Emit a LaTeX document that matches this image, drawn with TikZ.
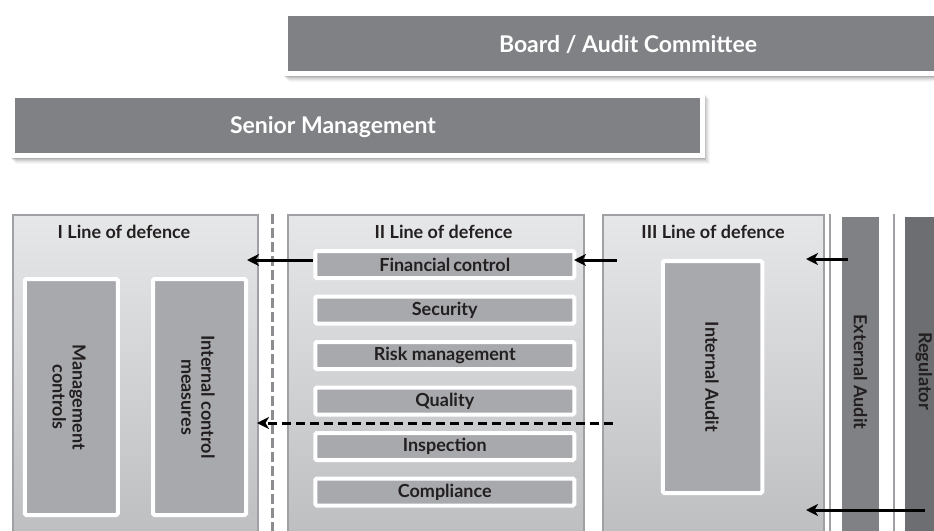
\documentclass[tikz,border=0pt]{standalone}
\usepackage{fontspec}
\setmainfont{Lato}
\usetikzlibrary{arrows.meta,calc}
\definecolor{boxgray}{HTML}{808185}
\definecolor{innergray}{HTML}{A7A9AC}
\definecolor{panelborder}{HTML}{A0A1A4}
\definecolor{regdark}{HTML}{6D6E71}
\definecolor{txt}{HTML}{231F20}
\definecolor{dashgray}{HTML}{8C8D90}
\definecolor{panelTop}{HTML}{E6E7E8}
\definecolor{panelBot}{HTML}{BBBCBE}
\begin{document}
\begin{tikzpicture}[x=1pt,y=-1pt,
  topbox/.style={fill=boxgray, draw=white, line width=4.5pt, inner sep=0pt},
  toptext/.style={text=white, font=\fontsize{23}{26}\selectfont\bfseries, inner sep=0pt},
  lbl/.style={text=txt, font=\fontsize{18}{20}\selectfont\bfseries, inner sep=0pt},
  panel/.style={draw=panelborder, line width=2pt, top color=panelTop, bottom color=panelBot, inner sep=0pt, anchor=north west},
  title/.style={lbl},
  vlbl/.style={lbl, rotate=-90, align=center},
  innerbox/.style={fill=innergray, draw=white, line width=4pt, rounded corners=1.5pt, inner sep=0pt, text=txt, font=\fontsize{18}{20}\selectfont\bfseries, align=center},
  rowbox/.style={innerbox, minimum width=259pt, minimum height=27pt},
  bar/.style={inner sep=0pt, anchor=north west},
  sepline/.style={draw=panelborder, line width=2.5pt},
  arr/.style={draw=black, line width=3pt, -{Stealth[length=12pt,width=12pt,inset=3.5pt]}},
  darr/.style={arr, dash pattern=on 9pt off 5pt}
]
\useasboundingbox (0,0) rectangle (934,530);
\clip (0,0) rectangle (934,530);

% shadows of top boxes
\foreach \o/\op in {1/0.10,2/0.08,3/0.06,4/0.05,5/0.04,6/0.03}{
  \fill[black,opacity=\op] (283+\o,12+\o) rectangle (970,76+\o);
  \fill[black,opacity=\op] (10+\o,93+\o) rectangle (704+\o,158+\o);
}

% top boxes
\node[topbox, minimum width=683pt, minimum height=59.5pt] (board) at (627,43.75) {};
\node[toptext] (boardtxt) at (628,45) {Board / Audit Committee};
\node[topbox, minimum width=689.5pt, minimum height=59.5pt] (senior) at (357.5,125.5) {};
\node[toptext] (seniortxt) at (333,127) {Senior Management};

% panels
\node[panel, minimum width=245pt, minimum height=340pt] (P1) at (12,214) {};
\node[panel, minimum width=296pt, minimum height=340pt] (P2) at (287,214) {};
\node[panel, minimum width=221pt, minimum height=340pt] (P3) at (602,214) {};

% separator lines and outer bars
\draw[sepline] (830,214) -- (830,545);
\draw[sepline] (894,214) -- (894,545);
\node[bar, fill=boxgray, minimum width=37pt, minimum height=330pt] (EA) at (842,217) {};
\node[bar, fill=regdark, minimum width=45pt, minimum height=330pt] (REG) at (905,217) {};
\node[vlbl] (EAtxt) at (860.5,372) {External  Audit};
\node[vlbl] (REGtxt) at (924,371) {Regulator};

% dashed vertical divider
\draw[draw=dashgray, line width=3pt, dash pattern=on 10pt off 4pt] (272,214) -- (272,545);

% titles
\node[title] (t1) at (124,232) {I Line of defence};
\node[title] (t2) at (443.5,232) {II Line of defence};
\node[title] (t3) at (713,232) {III Line of defence};

% first line boxes
\node[innerbox, minimum width=93pt, minimum height=236pt] (MC) at (71.25,397) {};
\node[vlbl] (MCtxt) at (69,397) {Management\\controls};
\node[innerbox, minimum width=93pt, minimum height=236pt] (ICM) at (199.5,397) {};
\node[vlbl] (ICMtxt) at (198,397) {Internal control\\measures};

% second line boxes
\node[rowbox] (FC) at (444.75,264.5) {Financial\,control};
\node[rowbox] (SEC) at (444.75,310) {Security};
\node[rowbox] (RM) at (444.75,355.5) {Risk management};
\node[rowbox] (QU) at (444.75,401) {Quality};
\node[rowbox] (INS) at (444.75,446.5) {Inspection};
\node[rowbox] (COM) at (444.75,492) {Compliance};

% third line box
\node[innerbox, minimum width=99.5pt, minimum height=232pt] (IA) at (712.5,377) {};
\node[vlbl] (IAtxt) at (712,377) {Internal  Audit};

% arrow end points
\coordinate (a1s) at (313,260);
\coordinate (a1e) at (247,260);
\coordinate (a2s) at (617,260);
\coordinate (a2e) at (574,260);
\coordinate (a3s) at (848,259);
\coordinate (a3e) at (806,259);
\coordinate (a4s) at (925,510);
\coordinate (a4e) at (806,510);
\coordinate (d1s) at (613,423);
\coordinate (d1e) at (257,423);

\draw[arr] (a1s) -- (a1e);
\draw[arr] (a2s) -- (a2e);
\draw[arr] (a3s) -- (a3e);
\draw[arr] (a4s) -- (a4e);
\draw[darr] (d1s) -- (d1e);
\end{tikzpicture}
\end{document}
